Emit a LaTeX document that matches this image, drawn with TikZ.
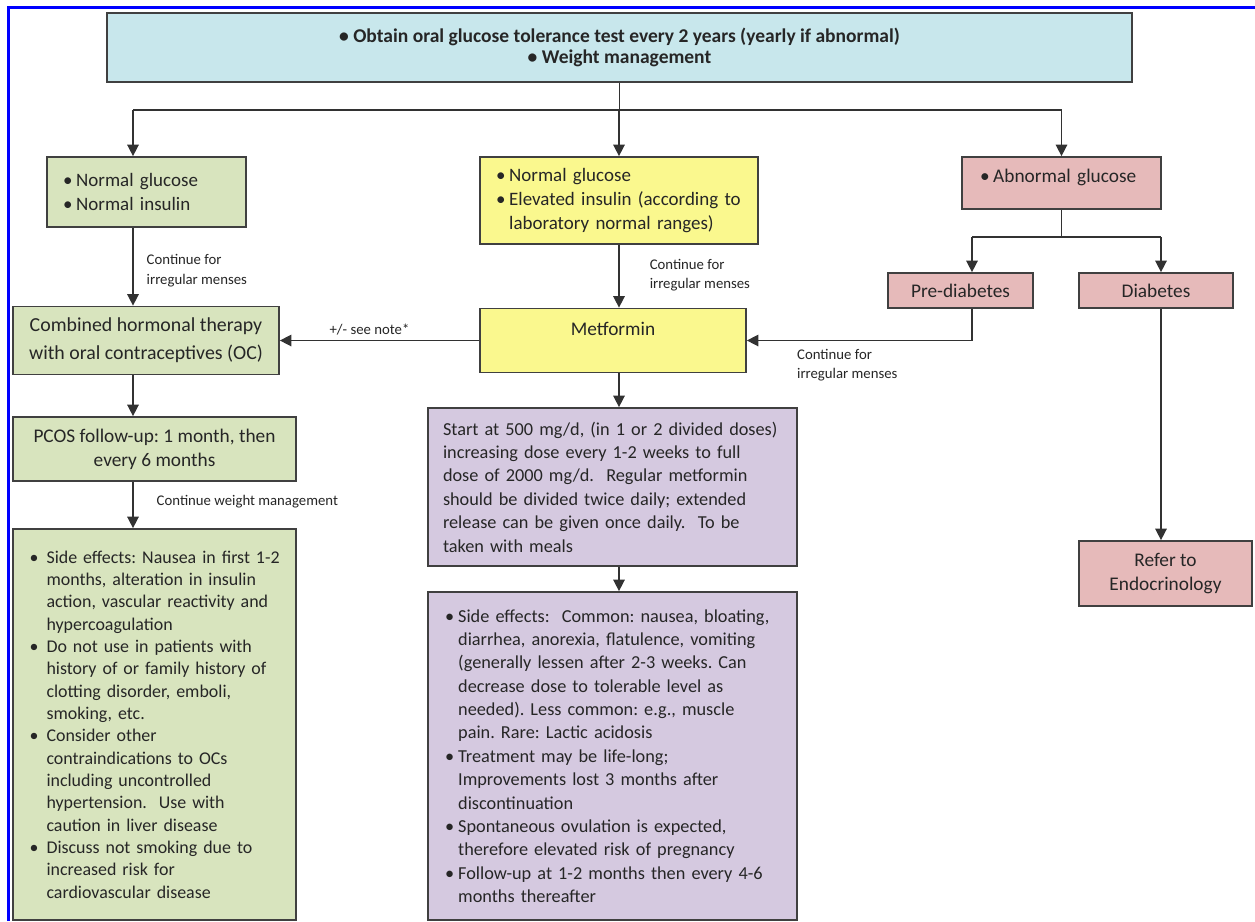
\documentclass[tikz,border=0pt]{standalone}
\usepackage{fontspec}
\setmainfont{Carlito}
\usetikzlibrary{arrows.meta}
\definecolor{topblue}{RGB}{200,231,236}
\definecolor{leafgreen}{RGB}{216,228,190}
\definecolor{paleyellow}{RGB}{250,248,142}
\definecolor{rosebox}{RGB}{230,186,186}
\definecolor{lilac}{RGB}{213,201,224}
\definecolor{edgegray}{RGB}{64,64,64}
\definecolor{linegray}{RGB}{50,50,50}
\definecolor{inkgray}{RGB}{38,38,38}
\newlength{\px}\setlength{\px}{0.02cm}
\newcommand{\bu}[1][7.5pt]{\makebox[#1][l]{\textbullet}}
\newcommand{\ind}[1][7.5pt]{\hspace*{#1}}
\frenchspacing

\begin{document}
\begin{tikzpicture}[x=0.02cm, y=-0.02cm,
    box/.style={draw=edgegray, line width=1pt, inner sep=0pt, text=inkgray},
    ln/.style={draw=linegray, line width=0.85pt},
    arr/.style={ln, -{Triangle[length=6.5pt,width=6.5pt]}},
    note/.style={font=\fontsize{8.4}{11}\selectfont, align=left, text=inkgray, inner sep=0pt}]

    \useasboundingbox (0,0) rectangle (1255,921);
    \fill[white] (0,0) rectangle (1255,921);
    \draw[blue, line width=3\px] (8,921) -- (8,7) -- (1255,7);

    % boxes
    \node[box, fill=topblue, minimum width=1025\px, minimum height=69\px, align=center,
          font=\bfseries\fontsize{11.1}{12.3}\selectfont] (top) at (619.5,47.5)
          {\textbullet{} Obtain oral glucose tolerance test every 2 years (yearly if abnormal)\\\textbullet{} Weight management};

    \node[box, fill=leafgreen, minimum width=199\px, minimum height=70\px, text width=167\px, align=left,
          font=\fontsize{10.8}{13.6}\selectfont] (normal) at (146.5,192)
          {\bu Normal glucose\\\bu Normal insulin};
    \node[box, fill=paleyellow, minimum width=278\px, minimum height=87\px, text width=246\px, align=left,
          font=\fontsize{10.8}{13.6}\selectfont] (elev) at (619,200.5)
          {\bu Normal glucose\\\bu Elevated insulin (according to\\\ind laboratory normal ranges)};
    \node[box, fill=rosebox, minimum width=199\px, minimum height=52\px, text width=163\px, align=left,
          font=\fontsize{11}{13.6}\selectfont] (abn) at (1061.5,183)
          {\bu Abnormal glucose\\[-5pt]\mbox{}};
    \node[box, fill=rosebox, minimum width=145\px, minimum height=35\px,
          font=\fontsize{11}{13.6}\selectfont] (pre) at (960.5,290.5) {Pre-diabetes};
    \node[box, fill=rosebox, minimum width=154\px, minimum height=35\px,
          font=\fontsize{11}{13.6}\selectfont] (dia) at (1156,290.5) {Diabetes};
    \node[box, fill=rosebox, minimum width=173\px, minimum height=65\px, align=center,
          font=\fontsize{11}{13.6}\selectfont] (refer) at (1165.5,573.5) {Refer to\\Endocrinology};

    \node[box, fill=leafgreen, minimum width=266\px, minimum height=68\px, align=center,
          font=\fontsize{11.3}{16.4}\selectfont] (comb) at (146,340.5)
          {\mbox{}\\[-9pt]Combined hormonal therapy\\with oral contraceptives (OC)};
    \node[box, fill=paleyellow, minimum width=266\px, minimum height=64\px, align=center,
          font=\fontsize{11}{13.6}\selectfont] (metf) at (613,340.5) {Metformin\\\mbox{}};
    \node[box, fill=leafgreen, minimum width=283\px, minimum height=64\px, align=center,
          font=\fontsize{11}{13.6}\selectfont] (pcos) at (154.5,449)
          {PCOS follow-up: 1 month, then\\every 6 months};

    \node[box, fill=leafgreen, minimum width=283\px, minimum height=391\px, text width=250\px, align=left,
          font=\fontsize{10.2}{12.7}\selectfont] (ocside) at (154.5,724.5)
          {\mbox{\bu[6.3pt] Side effects: Nausea in first 1-2}\\\ind[6.3pt] months, alteration in insulin\\\ind[6.3pt] action, vascular reactivity and\\\ind[6.3pt] hypercoagulation\\
           \bu[6.3pt] Do not use in patients with\\\ind[6.3pt] history of or family history of\\\ind[6.3pt] clotting disorder, emboli,\\\ind[6.3pt] smoking, etc.\\
           \bu[6.3pt] Consider other\\\ind[6.3pt] contraindications to OCs\\\ind[6.3pt] including uncontrolled\\\ind[6.3pt] hypertension.\ \ Use with\\\ind[6.3pt] caution in liver disease\\
           \bu[6.3pt] Discuss not smoking due to\\\ind[6.3pt] increased risk for\\\ind[6.3pt] cardiovascular disease};

    \node[box, fill=lilac, minimum width=369\px, minimum height=158\px, text width=339\px, align=left,
          font=\fontsize{10.4}{13.3}\selectfont] (dose) at (612.5,487)
          {Start at 500 mg/d, (in 1 or 2 divided doses)\\increasing dose every 1-2 weeks to full\\dose of 2000 mg/d.\ \ Regular metformin\\should be divided twice daily; extended\\release can be given once daily.\ \ To be\\taken with meals};
    \node[box, fill=lilac, minimum width=369\px, minimum height=328\px, text width=335\px, align=left,
          font=\fontsize{10.4}{13.3}\selectfont] (mside) at (612.5,756)
          {\bu Side effects:\ \ Common: nausea, bloating,\\\ind diarrhea, anorexia, flatulence, vomiting\\\ind (generally lessen after 2-3 weeks. Can\\\ind decrease dose to tolerable level as\\\ind needed). Less common: e.g., muscle\\\ind pain. Rare: Lactic acidosis\\
           \bu Treatment may be life-long;\\\ind Improvements lost 3 months after\\\ind discontinuation\\
           \bu Spontaneous ovulation is expected,\\\ind therefore elevated risk of pregnancy\\
           \bu Follow-up at 1-2 months then every 4-6\\\ind months thereafter};

    % connectors
    \coordinate (hubL) at (133,110);
    \coordinate (hubR) at (1061.5,110);
    \coordinate (hubP) at (972,237);
    \coordinate (hubD) at (1161,237);

    \draw[ln] (top) -- (top |- hubL);
    \draw[ln] (hubL) -- (hubR);
    \draw[arr] (hubL) -- (hubL |- normal.north);
    \draw[arr] (elev |- hubL) -- (elev.north);
    \draw[arr] (hubR) -- (abn.north);

    \draw[arr] (normal.south -| hubL) -- (comb.north -| hubL)
        node[note, midway, anchor=west, xshift=13\px, yshift=-4\px] {Continue for\\irregular menses};
    \draw[arr] (comb.south -| hubL) -- (pcos.north -| hubL);
    \draw[arr] (pcos.south -| hubL) -- (ocside.north -| hubL)
        node[note, midway, anchor=west, xshift=23\px, yshift=3\px] {Continue weight management};

    \draw[arr] (elev) -- (elev |- metf.north)
        node[note, midway, anchor=west, xshift=30\px, yshift=1\px] {Continue for\\irregular menses};
    \draw[arr] (metf.west) -- (comb.east)
        node[note, midway, above=5\px, xshift=-10\px] {+/- see note*};
    \draw[arr] (elev |- metf.south) -- (elev |- dose.north);
    \draw[arr] (elev |- dose.south) -- (elev |- mside.north);

    \draw[ln] (abn) -- (abn |- hubP);
    \draw[ln] (hubP) -- (hubD);
    \draw[arr] (hubP) -- (hubP |- pre.north);
    \draw[arr] (hubD) -- (hubD |- dia.north);
    \draw[arr] (pre.south -| hubP) |- (metf.east)
        node[note, pos=0.89, anchor=north west, yshift=-8\px] {Continue for\\irregular menses};
    \draw[arr] (dia.south -| hubD) -- (refer.north -| hubD);
\end{tikzpicture}
\end{document}
